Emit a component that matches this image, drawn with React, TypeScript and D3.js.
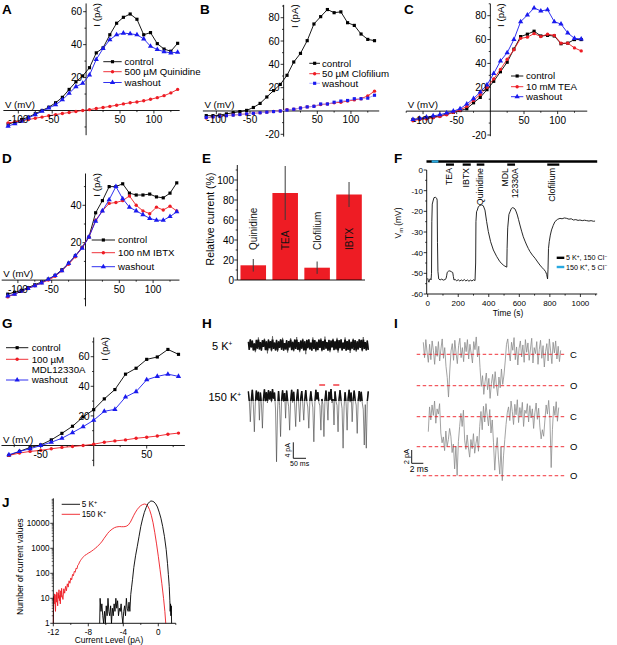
import React from 'react';
import * as d3 from 'd3';

const FONT = '"Liberation Sans", Arial, Helvetica, sans-serif';
const RED = '#ee1c24';
const BLUE = '#1a1aee';
const CYAN = '#29a9e0';

// ---------- I-V data (panels A-D, G) ----------
const volts = [-115, -105, -95, -85, -75, -65, -55, -45, -35, -25, -15, -5, 5, 15, 25, 35, 45, 55, 65, 75, 85, 95, 105, 115, 125, 135];
const voltsG = [-80, -70, -60, -50, -40, -30, -20, -10, 0, 10, 20, 30, 40, 50, 60, 70, 80];

const aControl = [-8.3, -7, -5.5, -4, -2, 0, 2, 4.7, 8, 12.8, 17.4, 21, 26, 35, 38, 46, 53, 56.6, 58.6, 55.4, 46, 47.3, 40.6, 37.3, 36, 40.8];
const aQuinidine = [-7.5, -7, -6.3, -5.5, -4.7, -4, -3.2, -2.5, -1.8, -1.2, -0.6, 0, 0.5, 1.2, 1.8, 2.5, 3.2, 4, 4.7, 5.2, 5.9, 6.8, 7.8, 9, 10.7, 12.8];
const aWashout = [-9.5, -8, -6.5, -4.5, -2.5, -0.5, 1.5, 3.5, 6.5, 10.5, 14.5, 16.5, 21.5, 31, 37.6, 43, 46, 47, 46.6, 46, 43.5, 39, 37, 35.7, 35, 35.4];

const bControl = [-4, -4, -3.5, -2.5, -1.5, -0.5, 0.5, 3, 6.5, 12, 17.5, 22.8, 30.6, 42, 49.4, 60.3, 74.6, 80.9, 87, 84.3, 85, 75.7, 73.4, 66, 61.4, 60.3];
const bClofilium = [-6, -5, -4.5, -4, -3.5, -3, -2.5, -2, -1.5, -1, -0.5, 0, 1, 1.5, 2.5, 3.5, 4, 5.5, 6, 7, 7.5, 8.5, 9.5, 10.5, 13, 17];
const bWashout = [-5.5, -5, -4.5, -4, -3.5, -3, -2.5, -2, -1.5, -1, -0.5, 0, 0.8, 1.5, 2.5, 3.5, 4, 6, 6, 7.5, 8.5, 9, 10.5, 10.5, 11, 13.5];

const cControl = [-7, -6.5, -6, -5, -4, -2.5, -1, 0.5, 2, 7, 11.5, 18, 25, 33, 41, 52, 62.5, 64.5, 67, 63, 63.5, 63, 56.5, 57, 60, 60];
const cTEA = [-8, -7, -6.5, -5.5, -4.5, -3, -1, 1, 4, 9, 14, 20, 27, 35, 43.5, 51.5, 61, 62, 65, 62.5, 64.5, 63.5, 57, 57, 53, 50.5];
const cWashout = [-7, -6, -5, -4, -3, -1.5, 0, 2, 6, 10.5, 16, 22, 31.5, 42, 49, 60, 75, 80.5, 86.5, 84, 85, 75, 73, 65.5, 61, 60.5];

const dControl = [-7.5, -6.5, -5.5, -4, -2.5, -1, 0.5, 2.5, 5.5, 9, 13, 17.5, 23, 36, 42.5, 50, 50, 51.5, 46.5, 45.5, 45.5, 46, 44.5, 44, 46.5, 52];
const dIBTX = [-9, -7.5, -6, -4.5, -3, -1.5, 0, 2, 5, 8.5, 12.5, 17.5, 23, 32, 37, 41, 41.5, 42.5, 45, 40, 37, 35.5, 39, 37.5, 39.5, 37];
const dWashout = [-8.5, -7.5, -6, -4.5, -3, -1.5, 0.5, 2.5, 5, 9, 13, 17, 23, 31.5, 37, 43, 50, 43.5, 39, 37, 35, 33, 32, 32, 34, 36.5];

const gControl = [-6.7, -4, -1.3, 0.4, 3.8, 8.2, 13, 19.3, 24.2, 31.5, 37.8, 48.2, 52.2, 58.2, 59.8, 64.9, 61.6];
const gMDL = [-6.7, -5.1, -4, -3.3, -2.2, -1.3, -0.7, 0, 0.9, 2.2, 3.1, 3.8, 4.9, 5.6, 6.4, 7.6, 8.4];
const gWashout = [-6.2, -4, -2.2, 0, 2.2, 4.9, 8.7, 12.7, 17.1, 23.1, 24.4, 32.7, 36.4, 44.4, 46.7, 48.2, 46.7];

// ---------- E: relative current ----------
const eDrugs = ['Quinidine', 'TEA', 'Clofilium', 'IBTX'];
const eMean = [14.7, 87, 12.3, 85.5];
const eErr = [6.3, 27, 6.2, 12.5];

// ---------- F: membrane potential trace ----------
const fTime = [0, 4, 8, 12, 17, 22, 25, 27, 30, 35, 41, 50, 59, 62, 64, 67, 72, 81, 92, 102, 113, 120, 124, 128, 135, 145, 157, 164, 168, 172, 180, 190, 200, 210, 220, 230, 240, 250, 260, 270, 280, 290, 300, 310, 314, 316, 320, 325, 332, 343, 354, 364, 375, 386, 397, 412, 430, 452, 473, 495, 505, 513, 518, 520, 524, 532, 539, 548, 557, 565, 572, 580, 587, 595, 604, 615, 626, 637, 648, 659, 670, 686, 703, 720, 735, 750, 762, 772, 779, 785, 788, 791, 796, 803, 811, 822, 833, 850, 866, 880, 895, 910, 925, 940, 954, 970, 985, 997, 1012, 1027, 1041, 1056, 1070, 1085, 1096];
const fVm = [-52.4, -53.5, -54.3, -53, -52.6, -53.2, -50, -25, -16.5, -15, -13.4, -13.2, -13.7, -14.6, -35, -49, -52.7, -53.2, -52.8, -53.3, -53, -52.6, -51.2, -49.5, -49, -48.8, -49.3, -49.6, -51.5, -53.2, -53, -53.6, -53.1, -53.7, -53.2, -53.6, -53, -53.7, -53.2, -53.8, -53.3, -53.7, -53.1, -53.5, -45, -25, -20.2, -19.4, -17.7, -17.1, -16.9, -17.3, -19.4, -25, -29.8, -34.7, -38.7, -41.9, -44.4, -46, -46.5, -46.8, -47, -38, -28, -21.5, -20.2, -18.6, -18.2, -18.5, -18.9, -20.3, -21.8, -24, -26.6, -29.6, -32.3, -34.4, -36.3, -38, -39.5, -41.2, -42.7, -44.5, -46, -47.3, -48.2, -49.2, -50.5, -52.7, -48, -38, -34.7, -31.5, -29, -26.8, -25, -23.9, -23.4, -23.6, -23.2, -23.4, -23.8, -23.6, -24.2, -24, -24.4, -24.2, -24.5, -24.3, -24.5, -24.7, -24.5, -24.8, -24.7];
const fDrugs = ['TEA', 'IBTX', 'Quinidine', 'MDL|12330A', 'Clofilium'];
const fStart = [120, 229, 321, 521, 783];
const fEnd = [172, 282, 371, 572, 862];
const fHighK = [26, 70];

// ---------- H: single-channel records (pA) ----------
const h5K = [0.8, -1.2, 1.5, -0.6, 1.1, -1.4, 0.4, -1.8, 1.3, -0.9, 1.9, -1.1, 0.7, -1.5, 1.2, -0.5, 1.6, -1.3, 0.9, -2.1,
  1.4, -0.8, 1.0, -1.6, 2.2, -1.0, 0.6, -1.4, 1.3, -1.7, 0.9, -0.7, 1.5, -1.2, 1.8, -1.5, 0.5, -1.1, 1.2, -1.9,
  1.0, -0.6, 1.7, -1.3, 0.8, -1.6, 1.4, -1.0, 2.0, -1.2, 0.7, -1.8, 1.1, -0.9, 1.6, -1.4, 0.9, -2.3, 1.3, -0.8,
  1.5, -1.1, 0.6, -1.5, 1.9, -1.0, 1.2, -1.7, 0.8, -1.3, 1.4, -0.7, 1.7, -1.6, 1.0, -1.2, 2.1, -0.9, 0.7, -1.5,
  1.3, -1.8, 1.1, -0.6, 1.6, -1.3, 0.9, -1.1, 1.8, -1.9, 1.2, -0.8, 1.5, -1.4, 0.6, -1.0, 1.9, -1.5, 1.0, -1.2,
  1.4, -2.0, 0.8, -0.9, 1.6, -1.3, 1.2, -1.7, 0.9, -1.1, 1.5, -0.7, 1.3, -1.6, 2.0, -1.0, 0.7, -1.4, 1.1, -1.2];
const h150K = [0.9, -1.5, -6.7, -1.2, 1.3, -2.4, -9.2, -2.0, 1.1, -1.3, 0.8, -6.3, 0.6, -2.2, -8.3, -1.0, 1.4, -1.6, 0.7, -2.0,
  1.2, -1.1, 0.9, -1.8, 1.5, -0.9, 0.6, -3.5, -16.7, -4.0, 1.0, -2.6, -10.4, -1.4, 1.2, -1.7, 0.5, -5.8, 1.1, -1.3,
  -2.8, -8.8, -1.5, 1.3, -1.9, 0.8, -2.5, -7.9, -1.0, 1.4, -2.2, -6.7, -0.8, 1.0, -2.1, -6.3, -1.2, 1.2, -1.6, -3.0,
  -8.3, -1.8, 0.9, -1.4, -3.2, -11.7, -2.0, 1.3, -1.1, 0.7, -1.9, -2.7, -8.8, -1.0, -2.4, -10.4, -1.5, 1.1, -1.7, -6.3,
  0.8, -1.2, 1.5, -2.0, -1.0, -7.5, 0.9, -1.6, -2.6, -9.2, -1.1, 1.2, -1.5, -3.4, -13.3, -2.8, 0.7, -2.2, -8.8, -0.9,
  1.3, -1.8, 0.6, -6.7, -1.0, 1.1, -1.4, -2.5, -9.6, -1.3, 1.0, -1.7, 0.8, -2.0, -3.6, -12.5, -2.4, -13.3, -1.6, 0.9];
const hMarks = [[279, 302], [334, 358]]; // ms

// ---------- I: expanded records (pA from closed level) ----------
const iTrace1 = [1.8, -0.5, 2.2, 0.3, -1.2, 1.5, -0.8, 2.0, 0.6, -1.5, 1.2, -0.3, 1.9, -1.0, 0.8, 2.3, -0.6, 1.0,
  -1.8, -3.5, -6.4, -2.5,
  0.5, 1.6, -0.9, 2.1, 0.2, -1.4, 1.3, 2.4, -0.5, 1.0, -1.1, 1.8, 0.4, 2.2, -0.7, 1.5, 0.1, -1.3, 1.9, 0.7, 2.6, -0.4, 1.2,
  -2.0, -4.8, -3.2, -6.0, -4.1, -2.8, -5.3, -3.6, -6.6, -4.4, -3.0, -5.1, -2.6, -4.7, -6.2, -3.4, -5.0, -2.2, -4.5, -3.1, -1.0,
  1.5, 2.3, 0.2, -1.0, 1.8, 0.6, 2.5, -0.8, 1.1, -1.6, 0.9, 2.0, -0.4, 1.4, -1.2, 2.2, 0.3, 1.7, -0.9, 0.8, 2.4, -1.3, 1.0, 0.1,
  1.9, -1.5, 0.7, 2.1, -0.6, 1.3, -1.9, 0.4, 1.6, -1.0, 2.3, 0.5, -1.4, 1.8, 0.2, 2.0, -0.7, 1.2, -1.1, 0.6];
const iTrace2 = [-2.3, 1.5,
  -0.5, 1.8, 0.2, 2.4, -1.0, 1.2, 0.4, 2.0,
  -2.5, -4.0, -3.1, -5.2, -2.2, -4.6, -3.5, -1.8,
  -3.0, -5.5, -4.2, -8.0, -4.5, -9.0, -3.8, -1.5,
  0.5, -1.5, 1.0,
  -3.6, -5.0, -2.8, -4.8, -6.2, -3.5, -4.9, -2.6, -5.6, -4.1, -3.0, -5.3, -1.5, 0.8, -2.0,
  1.6, -0.8, 2.0, 0.2, -1.4, 1.1, -2.5, -0.5,
  -4.0, -8.2, -5.0, -3.2, -6.5, -8.8, -4.6, -9.8, -6.0, -3.5, -1.2, 0.6,
  1.5, -0.6, 2.4, 0.8, -1.2, 1.9, 0.3, 2.6, -0.9, 1.4, 0.1, 2.2, -1.5, 1.0, 0.5, 2.0, -0.8, 1.7, -0.2, 1.2, -1.8, 0.6, 2.1, -0.4, 1.3,
  -1.6, -3.4, -2.0, -3.0, -0.5,
  1.8, 0.4, 2.5, -0.3,
  -7.8, -2.0,
  1.6, 0.2, 2.3, -0.7, 1.4];
const iLevels1 = [0, -4.7];
const iLevels2 = [0, -4.6, -9.05];
const iLevelNames1 = ['C', 'O'];
const iLevelNames2 = ['C', 'O', 'O'];

// ---------- J: all-points histograms ----------
const jBlackI = [-6.7, -6.65, -6.55, -6.45, -6.35, -6.25, -6.15, -6.05, -5.95, -5.85, -5.75, -5.65, -5.55, -5.45, -5.35, -5.25, -5.15, -5.05, -4.95, -4.85, -4.75, -4.65, -4.55, -4.45, -4.35, -4.25, -4.15, -4.05, -3.95, -3.85, -3.75, -3.65, -3.55, -3.45, -3.35, -3.25, -3.15, -3.05, -2.95, -2.8, -2.6, -2.4, -2.2, -2.0, -1.8, -1.6, -1.4, -1.2, -1.0, -0.85, -0.7, -0.5, -0.3, -0.1, 0.1, 0.3, 0.5, 0.7, 0.9, 1.05, 1.15, 1.25, 1.32, 1.36, 1.4, 1.44, 1.48, 1.52];
const jBlackN = [1, 10, 3, 6, 2, 1, 3, 1, 5, 2, 10, 3, 2, 5, 1, 4, 2, 6, 3, 10, 4, 8, 2, 4, 3, 6, 2, 1, 3, 5, 2, 10, 4, 3, 7, 3, 14, 28, 55, 170, 500, 1200, 3000, 7500, 15000, 27000, 42000, 60000, 72000, 78000, 77000, 72000, 60000, 45000, 28000, 16000, 7500, 3000, 900, 250, 90, 30, 8, 3, 6, 2, 5, 1];
const jRedI = [-12.0, -11.95, -11.9, -11.85, -11.8, -11.75, -11.7, -11.65, -11.6, -11.55, -11.5, -11.45, -11.4, -11.35, -11.3, -11.25, -11.2, -11.15, -11.1, -11.05, -11.0, -10.9, -10.8, -10.7, -10.6, -10.5, -10.4, -10.3, -10.2, -10.1, -10.0, -9.9, -9.8, -9.7, -9.6, -9.5, -9.4, -9.3, -9.2, -9.1, -9.0, -8.9, -8.8, -8.7, -8.6, -8.5, -8.4, -8.2, -8.0, -7.8, -7.6, -7.4, -7.2, -7.0, -6.8, -6.6, -6.4, -6.2, -6.0, -5.8, -5.6, -5.4, -5.2, -5.0, -4.8, -4.6, -4.4, -4.2, -4.0, -3.8, -3.6, -3.4, -3.2, -3.0, -2.8, -2.6, -2.4, -2.2, -2.0, -1.8, -1.6, -1.4, -1.2, -1.0, -0.8, -0.6, -0.4, -0.2, 0.0, 0.2, 0.4, 0.6, 0.75, 0.85];
const jRedN = [1, 12, 6, 15, 8, 3, 14, 7, 18, 9, 5, 16, 10, 22, 8, 13, 6, 20, 11, 25, 14, 9, 24, 16, 30, 20, 38, 28, 50, 40, 65, 55, 90, 80, 120, 110, 160, 150, 210, 230, 280, 320, 360, 400, 440, 480, 520, 570, 640, 700, 780, 880, 1000, 1150, 1350, 1600, 1950, 2500, 3100, 3900, 4700, 5400, 6100, 6700, 7100, 7300, 7400, 7300, 7300, 7400, 7800, 8800, 11000, 15000, 21000, 28000, 36000, 44000, 51000, 56000, 59000, 57000, 49000, 35000, 21000, 10500, 4200, 1500, 480, 140, 40, 10, 3, 1];

type Scale = d3.ScaleLinear<number, number>;

function Sym({ type, x, y, size, fill }: { type: d3.SymbolType; x: number; y: number; size: number; fill: string }) {
  return <path d={d3.symbol().type(type).size(size)() || ''} transform={`translate(${x},${y})`} fill={fill} />;
}

function Letter({ x, y, c }: { x: number; y: number; c: string }) {
  return <text x={x} y={y} fontWeight="bold" fontSize={13.5}>{c}</text>;
}

interface Series { i: number[]; color: string; line?: string; type: d3.SymbolType; size: number }

function IVPanel(p: {
  sx: Scale; sy: Scale; v: number[]; xExt: number[]; yExt: number[]; xLab: number[]; yLab: number[];
  series: Series[]; names: string[][]; lx: number[]; ly: number[];
}) {
  const { sx, sy, xExt, yExt } = p;
  const x0 = sx(0), y0 = sy(0);
  const ticks = (a: number, b: number, step: number) =>
    d3.range(Math.ceil(a / step) * step, b + 1e-9, step).filter(t => t !== 0);
  const xMaj = ticks(xExt[0], xExt[1], 50);
  const xMin = ticks(xExt[0], xExt[1], 25).filter(t => t % 50 !== 0);
  const yMaj = ticks(yExt[0], yExt[1], 20);
  const yMin = ticks(yExt[0], yExt[1], 10).filter(t => t % 20 !== 0);
  return (
    <g>
      <line x1={sx(xExt[0])} x2={sx(xExt[1])} y1={y0} y2={y0} stroke="#000" strokeWidth={0.9} />
      <line x1={x0} x2={x0} y1={sy(yExt[0])} y2={sy(yExt[1])} stroke="#000" strokeWidth={0.9} />
      {xMaj.map(t => <line key={'xM' + t} x1={sx(t)} x2={sx(t)} y1={y0} y2={y0 + 3} stroke="#000" strokeWidth={0.8} />)}
      {xMin.map(t => <line key={'xm' + t} x1={sx(t)} x2={sx(t)} y1={y0} y2={y0 + 1.6} stroke="#000" strokeWidth={0.8} />)}
      {yMaj.map(t => <line key={'yM' + t} x1={x0 - 3} x2={x0} y1={sy(t)} y2={sy(t)} stroke="#000" strokeWidth={0.8} />)}
      {yMin.map(t => <line key={'ym' + t} x1={x0 - 1.6} x2={x0} y1={sy(t)} y2={sy(t)} stroke="#000" strokeWidth={0.8} />)}
      {p.series.map((s, k) => {
        const ln = d3.line<number>().x((_, j) => sx(p.v[j])).y(d => sy(d));
        return (
          <g key={'s' + k}>
            <path d={ln(s.i) || ''} fill="none" stroke={s.line || s.color} strokeWidth={0.9} />
            {s.i.map((d, j) => <Sym key={j} type={s.type} x={sx(p.v[j])} y={sy(d)} size={s.size} fill={s.color} />)}
          </g>
        );
      })}
      {p.xLab.map(t => <text key={'xl' + t} x={sx(t)} y={y0 + 12.5} textAnchor="middle" fontSize={10}>{t}</text>)}
      {p.yLab.map(t => <text key={'yl' + t} x={x0 - 4} y={sy(t) + 3.6} textAnchor="end" fontSize={10}>{t}</text>)}
      <text x={sx(xExt[0]) + 1.5} y={y0 - 2.8} fontSize={9.7}>V (mV)</text>
      <text transform={`translate(${x0 + 14},${sy(yExt[1]) - 0.5}) rotate(-90)`} textAnchor="end" fontSize={9.7}>I (pA)</text>
      {p.series.map((s, k) => (
        <g key={'l' + k}>
          <line x1={p.lx[0]} x2={p.lx[1]} y1={p.ly[k]} y2={p.ly[k]} stroke={s.line || s.color} strokeWidth={0.9} />
          <Sym type={s.type} x={(p.lx[0] + p.lx[1]) / 2} y={p.ly[k]} size={s.size} fill={s.color} />
          {p.names[k].map((t, j) => (
            <text key={j} x={p.lx[2]} y={p.ly[k] + j * 10.7} dy="0.35em" fontSize={9.7}>{t}</text>
          ))}
        </g>
      ))}
    </g>
  );
}

const lin = (d: number[], r: number[]) => d3.scaleLinear().domain(d).range(r);
const SQ = d3.symbolSquare, CI = d3.symbolCircle, TR = d3.symbolTriangle;

function PanelE() {
  const x = d3.scaleBand<string>().domain(eDrugs).range([237.3, 365]).paddingInner(0.2).paddingOuter(0.1);
  const y = d3.scaleLinear().domain([0, 100]).range([280, 180]);
  const bw = x.bandwidth();
  return (
    <g>
      {eDrugs.map((d, k) => {
        const cx = (x(d) || 0) + bw / 2;
        return (
          <g key={d}>
            <rect x={x(d)} y={y(eMean[k])} width={bw} height={y(0) - y(eMean[k])} fill={RED} />
            <line x1={cx} x2={cx} y1={y(eMean[k] - eErr[k])} y2={y(eMean[k] + eErr[k])} stroke="#3a3a3a" strokeWidth={1} />
            <text transform={`translate(${cx},250) rotate(-90)`} dy="0.35em" fontSize={10} fill="#111">{d}</text>
          </g>
        );
      })}
      <line x1={237.3} x2={365} y1={280} y2={280} stroke="#000" strokeWidth={0.9} />
      <line x1={237.3} x2={237.3} y1={280} y2={y(115)} stroke="#000" strokeWidth={0.9} />
      {d3.range(0, 101, 20).map(t => (
        <g key={t}>
          <line x1={234.3} x2={237.3} y1={y(t)} y2={y(t)} stroke="#000" strokeWidth={0.8} />
          <text x={234} y={y(t) + 3.6} textAnchor="end" fontSize={10}>{t}</text>
        </g>
      ))}
      {d3.range(10, 111, 20).map(t => <line key={'m' + t} x1={235.7} x2={237.3} y1={y(t)} y2={y(t)} stroke="#000" strokeWidth={0.8} />)}
      <text transform="translate(214,219) rotate(-90)" textAnchor="middle" fontSize={10.5}>Relative current (%)</text>
    </g>
  );
}

function PanelF() {
  const x = lin([0, 1000], [427.7, 580.4]);
  const y = lin([-60, 0], [294, 170]);
  const ln = d3.line<number>().x((_, k) => x(fTime[k])).y(d => y(d));
  return (
    <g>
      <line x1={x(-8)} x2={x(1110)} y1={161.5} y2={161.5} stroke="#000" strokeWidth={2.3} />
      <line x1={x(fHighK[0])} x2={x(fHighK[1])} y1={161.5} y2={161.5} stroke={CYAN} strokeWidth={2.3} />
      {fDrugs.map((d, k) => {
        const cx = (x(fStart[k]) + x(fEnd[k])) / 2;
        const parts = d.split('|');
        return (
          <g key={d}>
            <line x1={x(fStart[k])} x2={x(fEnd[k])} y1={164.6} y2={164.6} stroke="#000" strokeWidth={2.3} />
            {parts.map((t, j) => (
              <text key={j} transform={`translate(${cx - 1 + (j - (parts.length - 1) / 2) * 9.5},168) rotate(-90)`}
                textAnchor="end" dy="0.35em" fontSize={8.8}>{t}</text>
            ))}
          </g>
        );
      })}
      <path d={ln(fVm) || ''} fill="none" stroke="#111" strokeWidth={0.9} />
      <line x1={426.7} x2={426.7} y1={y(0)} y2={y(-60)} stroke="#000" strokeWidth={0.9} />
      <line x1={426.7} x2={x(1110)} y1={y(-60)} y2={y(-60)} stroke="#000" strokeWidth={0.9} />
      {d3.range(-60, 1, 10).map(t => (
        <g key={t}>
          <line x1={423.7} x2={426.7} y1={y(t)} y2={y(t)} stroke="#000" strokeWidth={0.8} />
          <text x={423} y={y(t) + 2.9} textAnchor="end" fontSize={8}>{t}</text>
        </g>
      ))}
      {d3.range(-55, 0, 10).map(t => <line key={'m' + t} x1={425.2} x2={426.7} y1={y(t)} y2={y(t)} stroke="#000" strokeWidth={0.8} />)}
      {d3.range(0, 1001, 200).map(t => (
        <g key={'x' + t}>
          <line x1={x(t)} x2={x(t)} y1={294} y2={297} stroke="#000" strokeWidth={0.8} />
          <text x={x(t)} y={306.2} textAnchor="middle" fontSize={8}>{t}</text>
        </g>
      ))}
      {d3.range(100, 1101, 200).map(t => <line key={'xm' + t} x1={x(t)} x2={x(t)} y1={294} y2={295.6} stroke="#000" strokeWidth={0.8} />)}
      <text x={508} y={316} textAnchor="middle" fontSize={8.4}>Time (s)</text>
      <text transform="translate(401,223) rotate(-90)" textAnchor="middle" fontSize={8.4}>
        V<tspan dy={1.8} fontSize={5.8}>m</tspan><tspan dy={-1.8}> (mV)</tspan>
      </text>
      <line x1={556.7} x2={564.3} y1={257.8} y2={257.8} stroke="#000" strokeWidth={2.4} />
      <line x1={556.7} x2={564.3} y1={267} y2={267} stroke={CYAN} strokeWidth={2.4} />
      <text x={566} y={260.3} fontSize={7.2}>5 K<tspan dy={-2.6} fontSize={4.8}>+</tspan><tspan dy={2.6}>, 150 Cl</tspan><tspan dy={-2.6} fontSize={4.8}>−</tspan></text>
      <text x={566} y={269.5} fontSize={7.2}>150 K<tspan dy={-2.6} fontSize={4.8}>+</tspan><tspan dy={2.6}>, 5 Cl</tspan><tspan dy={-2.6} fontSize={4.8}>−</tspan></text>
    </g>
  );
}

// a noisy record: thin full trace, plus a heavier copy clipped to the dense noise band
function Record({ id, d, x0, x1, base, band }: { id: string; d: number[]; x0: number; x1: number; base: number; band: number }) {
  const x = lin([0, d.length - 1], [x0, x1]);
  const y = lin([0, 1], [base, base - 4]);
  const ln = d3.line<number>().x((_, k) => x(k)).y(v => y(v));
  return (
    <g>
      <clipPath id={id}><rect x={x0 - 1} y={base - band} width={x1 - x0 + 2} height={band * 2} /></clipPath>
      <path d={ln(d) || ''} fill="none" stroke="#3c3c3c" strokeWidth={0.6} />
      <path d={ln(d) || ''} fill="none" stroke="#111" strokeWidth={1.5} clipPath={`url(#${id})`} />
    </g>
  );
}

function PanelH() {
  const t = lin([0, 472], [248.3, 368.3]);
  const yb = lin([0, 4], [458.3, 442.3]);
  return (
    <g>
      <text x={212} y={350.3} fontSize={11}>5 K<tspan dy={-4} fontSize={6.5}>+</tspan></text>
      <text x={208.5} y={400.8} fontSize={11}>150 K<tspan dy={-4} fontSize={6.5}>+</tspan></text>
      <Record id="h1" d={h5K} x0={248.3} x1={368.3} base={345} band={5.5} />
      <Record id="h2" d={h150K} x0={248.3} x1={368.3} base={395} band={6} />
      {hMarks.map((m, k) => <line key={k} x1={t(m[0])} x2={t(m[1])} y1={385} y2={385} stroke={RED} strokeWidth={1.3} />)}
      <line x1={t(177)} x2={t(177)} y1={yb(0)} y2={yb(4)} stroke="#000" strokeWidth={0.9} />
      <line x1={t(177)} x2={t(227)} y1={yb(0)} y2={yb(0)} stroke="#000" strokeWidth={0.9} />
      <text transform={`translate(${t(177) - 3},${(yb(0) + yb(4)) / 2}) rotate(-90)`} textAnchor="middle" fontSize={7}>4 pA</text>
      <text x={(t(177) + t(227)) / 2} y={466} textAnchor="middle" fontSize={7}>50 ms</text>
    </g>
  );
}

function PanelI() {
  const x1 = lin([0, iTrace1.length - 1], [423.3, 560.7]);
  const x2 = lin([0, iTrace2.length - 1], [428.3, 558.7]);
  const y1 = lin([0, -4.7], [354.3, 385.7]);
  const y2 = lin([0, -4.6], [416.7, 446.7]);
  const l1 = d3.line<number>().x((_, k) => x1(k)).y(d => y1(d));
  const l2 = d3.line<number>().x((_, k) => x2(k)).y(d => y2(d));
  const lev = (levels: number[], names: string[], y: Scale) => levels.map((v, k) => (
    <g key={k}>
      <line x1={416.7} x2={566.7} y1={y(v)} y2={y(v)} stroke={RED} strokeWidth={0.9} strokeDasharray="3.5,2.5" />
      <text x={570} y={y(v)} dy="0.35em" fontSize={9.5}>{names[k]}</text>
    </g>
  ));
  return (
    <g>
      <path d={l1(iTrace1) || ''} fill="none" stroke="#8c8c8c" strokeWidth={0.8} />
      <path d={l2(iTrace2) || ''} fill="none" stroke="#8c8c8c" strokeWidth={0.8} />
      {lev(iLevels1, iLevelNames1, y1)}
      {lev(iLevels2, iLevelNames2, y2)}
      <line x1={411.7} x2={411.7} y1={450} y2={463.3} stroke="#000" strokeWidth={0.9} />
      <line x1={411.7} x2={423.3} y1={463.3} y2={463.3} stroke="#000" strokeWidth={0.9} />
      <text transform="translate(408.5,456.6) rotate(-90)" textAnchor="middle" fontSize={7.5}>2 pA</text>
      <text x={419} y={472} textAnchor="middle" fontSize={8.5}>2 ms</text>
    </g>
  );
}

function PanelJ() {
  const x = lin([-12, 0], [53.3, 158.3]);
  const y = d3.scaleLog().domain([1, 1e5]).range([623.3, 498.3]);
  const lb = d3.line<number>().x((_, k) => x(jBlackI[k])).y(d => y(d));
  const lr = d3.line<number>().x((_, k) => x(jRedI[k])).y(d => y(d));
  const decades = [1, 10, 100, 1000, 10000];
  return (
    <g>
      <path d={lr(jRedN) || ''} fill="none" stroke={RED} strokeWidth={0.9} />
      <path d={lb(jBlackN) || ''} fill="none" stroke="#000" strokeWidth={0.9} />
      <line x1={53.3} x2={53.3} y1={y(1)} y2={y(1e5)} stroke="#000" strokeWidth={0.9} />
      <line x1={53.3} x2={x(2)} y1={y(1)} y2={y(1)} stroke="#000" strokeWidth={0.9} />
      {decades.map(d => (
        <g key={d}>
          <line x1={50.3} x2={53.3} y1={y(d)} y2={y(d)} stroke="#000" strokeWidth={0.8} />
          <text x={49.5} y={y(d) + 2.9} textAnchor="end" fontSize={8.2}>{d}</text>
          {[2, 3, 4, 5, 6, 7, 8, 9].map(m => (
            <line key={m} x1={51.7} x2={53.3} y1={y(d * m)} y2={y(d * m)} stroke="#000" strokeWidth={0.6} />
          ))}
        </g>
      ))}
      {[-12, -8, -4, 0].map(t => (
        <g key={t}>
          <line x1={x(t)} x2={x(t)} y1={623.3} y2={626.3} stroke="#000" strokeWidth={0.8} />
          <text x={x(t)} y={634.5} textAnchor="middle" fontSize={8.2}>{t}</text>
        </g>
      ))}
      {[-10, -6, -2, 2].map(t => <line key={t} x1={x(t)} x2={x(t)} y1={623.3} y2={624.9} stroke="#000" strokeWidth={0.8} />)}
      <text x={109} y={643} textAnchor="middle" fontSize={8.4}>Current Level (pA)</text>
      <text transform="translate(23,566.7) rotate(-90)" textAnchor="middle" fontSize={8.6}>Number of current values</text>
      <line x1={61.7} x2={80} y1={504.3} y2={504.3} stroke="#000" strokeWidth={0.9} />
      <line x1={61.7} x2={80} y1={514.3} y2={514.3} stroke={RED} strokeWidth={0.9} />
      <text x={81.7} y={507.2} fontSize={8.2}>5 K<tspan dy={-3} fontSize={5.5}>+</tspan></text>
      <text x={81.7} y={517.2} fontSize={8.2}>150 K<tspan dy={-3} fontSize={5.5}>+</tspan></text>
    </g>
  );
}

export default function App() {
  return (
    <svg width={617} height={645} viewBox="0 0 617 645" fontFamily={FONT}
      style={{ position: 'absolute', left: 0, top: 0, display: 'block' }}>
      <rect width={617} height={645} fill="#fff" />
      <IVPanel sx={lin([-50, 50], [52.2, 120])} sy={lin([0, 60], [110.5, 11.7])} v={volts}
        xExt={[-122, 138]} yExt={[-15, 65]} xLab={[-100, -50, 50, 100]} yLab={[20, 40, 60]}
        series={[
          { i: aControl, color: '#000', type: SQ, size: 10 },
          { i: aQuinidine, color: RED, type: CI, size: 9 },
          { i: aWashout, color: BLUE, type: TR, size: 12 },
        ]}
        names={[['control'], ['500 µM Quinidine'], ['washout']]} lx={[103.3, 121.7, 124.5]} ly={[61.7, 71.7, 82.5]} />
      <IVPanel sx={lin([-50, 50], [250, 317.3])} sy={lin([-20, 80], [134.3, 17.7])} v={volts}
        xExt={[-120, 142]} yExt={[-22, 91]} xLab={[-100, -50, 50, 100]} yLab={[-20, 20, 40, 60, 80]}
        series={[
          { i: bControl, color: '#000', type: SQ, size: 10 },
          { i: bClofilium, color: RED, type: CI, size: 9 },
          { i: bWashout, color: BLUE, line: '#a9a9ff', type: SQ, size: 10 },
        ]}
        names={[['control'], ['50 µM Clofilium'], ['washout']]} lx={[309.3, 320, 322]} ly={[63.3, 73.7, 83.3]} />
      <IVPanel sx={lin([-50, 50], [456.7, 524])} sy={lin([-20, 80], [135, 15.7])} v={volts}
        xExt={[-125, 144]} yExt={[-21, 90]} xLab={[-100, -50, 50, 100]} yLab={[-20, 20, 40, 60, 80]}
        series={[
          { i: cControl, color: '#000', type: SQ, size: 10 },
          { i: cTEA, color: RED, type: CI, size: 9 },
          { i: cWashout, color: BLUE, type: TR, size: 12 },
        ]}
        names={[['control'], ['10 mM TEA'], ['washout']]} lx={[511, 523.3, 526]} ly={[76, 86.7, 96.7]} />
      <IVPanel sx={lin([-50, 50], [51.7, 119.3])} sy={lin([20, 40], [242.7, 205.3])} v={volts}
        xExt={[-124, 139]} yExt={[-14, 57]} xLab={[-100, -50, 50, 100]} yLab={[20, 40]}
        series={[
          { i: dControl, color: '#000', type: SQ, size: 10 },
          { i: dIBTX, color: RED, type: CI, size: 9 },
          { i: dWashout, color: BLUE, type: TR, size: 12 },
        ]}
        names={[['control'], ['100 nM IBTX'], ['washout']]} lx={[91.7, 115, 118]} ly={[240, 252.7, 266.7]} />
      <IVPanel sx={lin([-50, 50], [40.7, 146.7])} sy={lin([0, 60], [445.5, 356.7])} v={voltsG}
        xExt={[-87, 86]} yExt={[-14, 73]} xLab={[-50, 50]} yLab={[20, 40, 60]}
        series={[
          { i: gControl, color: '#000', type: SQ, size: 10 },
          { i: gMDL, color: RED, type: CI, size: 9 },
          { i: gWashout, color: BLUE, type: TR, size: 12 },
        ]}
        names={[['control'], ['100 µM', 'MDL12330A'], ['washout']]} lx={[6, 28.3, 31.7]} ly={[347.7, 359.3, 380]} />
      <PanelE />
      <PanelF />
      <PanelH />
      <PanelI />
      <PanelJ />
      <Letter x={2} y={14} c="A" />
      <Letter x={200} y={14} c="B" />
      <Letter x={404} y={14} c="C" />
      <Letter x={2} y={163} c="D" />
      <Letter x={202} y={163} c="E" />
      <Letter x={394} y={163} c="F" />
      <Letter x={2} y={328} c="G" />
      <Letter x={202} y={328} c="H" />
      <Letter x={394} y={328} c="I" />
      <Letter x={2} y={507} c="J" />
    </svg>
  );
}
